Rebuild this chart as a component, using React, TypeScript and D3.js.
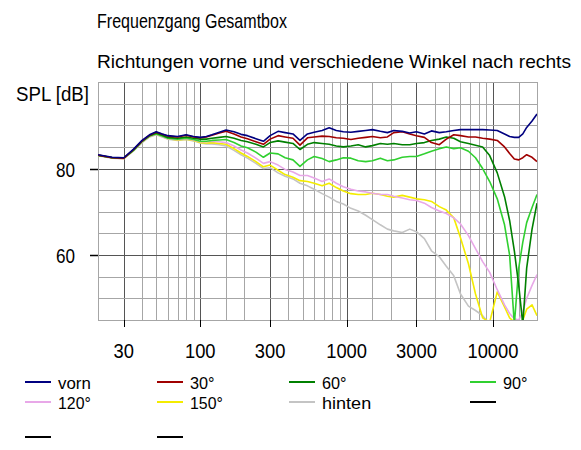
import React from "react";
import * as d3 from "d3";

// ---------- data ----------
const FREQS = [20, 25, 30, 35, 40, 45, 50, 55, 60, 70, 80, 90, 100, 110, 120, 135, 150, 170, 190, 210, 240, 270, 300, 340, 380, 430, 480, 540, 600, 680, 760, 850, 950, 1070, 1200, 1350, 1500, 1700, 1900, 2100, 2400, 2700, 3000, 3400, 3800, 4300, 4800, 5400, 6000, 6800, 7600, 8500, 9500, 10700, 12000, 13000, 14000, 15000, 16000, 17000, 18500, 20000];

const VORN = [83.2, 82.6, 82.5, 84.5, 86.5, 87.8, 88.5, 88.0, 87.6, 87.4, 87.8, 87.4,
  87.2, 87.4, 87.8, 88.4, 88.9, 88.5, 87.9, 87.6, 86.9, 86.3,
  87.6, 88.6, 88.3, 88.0, 86.5, 88.0, 88.4, 88.8, 89.4, 88.8,
  88.5, 88.4, 88.6, 88.8, 89.0, 88.6, 88.3, 88.8, 88.6, 88.2,
  88.5, 88.0, 88.7, 88.3, 88.5, 88.8, 89.0, 89.0, 89.0, 89.0,
  88.9, 88.8, 88.0, 87.4, 87.2, 87.2, 88.0, 89.5, 91.0, 92.6];

const DEG30 = [83.1, 82.5, 82.4, 84.4, 86.4, 87.7, 88.4, 87.9, 87.5, 87.3, 87.7, 87.3,
  87.1, 87.3, 87.7, 88.2, 88.6, 88.0, 87.3, 86.9, 86.2, 85.6,
  86.8, 87.6, 87.3, 87.0, 85.4, 87.1, 87.3, 87.5, 87.4, 87.1,
  87.0, 86.7, 87.0, 87.2, 87.4, 87.1, 87.3, 88.3, 88.5, 88.0,
  87.6, 87.2, 86.0, 85.5, 86.8, 87.8, 87.6, 87.3, 87.3, 87.0,
  86.8, 86.5, 85.0, 83.5, 82.2, 82.0, 82.5, 83.2, 82.6, 81.6];

const DEG60 = [83.1, 82.5, 82.4, 84.3, 86.3, 87.6, 88.2, 87.7, 87.2, 87.0, 87.3, 87.0,
  86.8, 86.8, 87.0, 87.2, 87.4, 87.0, 86.5, 86.2, 85.6, 85.0,
  86.0, 86.4, 86.1, 85.8, 84.4, 85.6, 86.0, 85.8, 85.6, 85.2,
  85.0, 85.2, 85.5, 85.0, 85.3, 85.8, 85.6, 85.8, 85.5, 85.5,
  85.8, 86.0, 86.5, 86.8, 87.3, 87.0, 86.2, 85.8, 85.4, 85.0,
  83.0, 79.0, 73.5, 68.0, 61.0, 53.0, 44.0, 57.0, 66.0, 72.0];

const DEG90 = [83.0, 82.5, 82.4, 84.2, 86.2, 87.5, 88.0, 87.5, 87.0, 86.8, 87.0, 86.7,
  86.3, 86.3, 86.5, 86.6, 86.7, 86.0, 85.2, 84.8, 83.8, 82.6,
  83.6, 83.4, 82.5, 82.0, 80.5, 82.0, 82.8, 82.3, 81.6, 82.0,
  82.5, 82.4, 81.8, 81.6, 81.8, 82.4, 81.8, 82.0, 82.6, 82.8,
  82.8, 83.4, 84.0, 84.6, 85.0, 84.6, 84.8, 84.0, 82.5, 80.0,
  77.0, 73.0, 67.0, 60.0, 44.0, 57.0, 63.0, 67.5, 71.0, 74.0];

const DEG120 = [83.0, 82.5, 82.3, 84.2, 86.1, 87.4, 87.9, 87.4, 86.9, 86.7, 86.9, 86.6,
  86.2, 86.2, 86.3, 86.2, 86.0, 85.2, 84.3, 83.6, 82.4, 81.2,
  81.6, 80.8, 79.8, 79.2, 78.4, 78.4, 77.8, 77.0, 77.6, 76.6,
  75.8, 75.2, 74.8, 74.6, 74.3, 74.0, 74.0, 73.6, 73.2, 72.8,
  72.6, 72.0, 71.0, 70.2, 69.6, 68.6, 67.2, 64.5, 61.5, 58.5,
  56.0, 52.0, 48.5, 46.5, 45.3, 45.0, 47.0, 50.0, 53.0, 55.5];

const DEG150 = [83.0, 82.5, 82.3, 84.2, 86.1, 87.4, 87.9, 87.4, 86.9, 86.6, 86.8, 86.5,
  86.0, 85.9, 86.0, 85.8, 85.6, 84.6, 83.6, 82.8, 81.6, 80.4,
  80.8, 79.6, 78.6, 78.0, 77.2, 77.0, 76.6, 76.0, 76.6, 75.6,
  74.8, 74.2, 74.0, 74.0, 74.3, 74.0, 73.6, 73.4, 73.8, 73.4,
  73.0, 72.8, 72.4, 71.2, 70.4, 68.6, 64.0, 58.0, 51.0, 45.5,
  44.5, 51.5, 48.0, 45.5, 44.5, 44.5, 45.0, 47.5, 48.5, 46.0];

const HINTEN = [83.0, 82.4, 82.3, 84.1, 86.0, 87.3, 87.8, 87.3, 86.8, 86.5, 86.7, 86.4,
  85.9, 85.7, 85.7, 85.5, 85.2, 84.2, 83.2, 82.4, 81.2, 80.0,
  80.2, 79.0, 78.2, 77.6, 76.6, 76.0, 75.2, 74.2, 73.4, 72.4,
  71.8, 70.8, 70.2, 69.2, 68.2, 67.0, 66.0, 65.6, 65.2, 66.0,
  65.4, 63.8, 61.0, 59.6, 57.4, 55.2, 51.0, 48.2, 47.2, 46.0,
  44.0, 43.0, 43.0, 43.0, 43.0, 43.0, 43.0, 43.0, 43.0, 43.0];

const SERIES_NAMES = ["vorn", "30°", "60°", "90°", "120°", "150°", "hinten", "", "", ""];
const SERIES_VALUES = [VORN, DEG30, DEG60, DEG90, DEG120, DEG150, HINTEN];

const X_TICKS = [30, 100, 300, 1000, 3000, 10000];
const X_TICK_LABELS = ["30", "100", "300", "1000", "3000", "10000"];
const Y_TICKS = [60, 80];
const Y_TICK_LABELS = ["60", "80"];
const GRID_MULTS = [1, 1.5, 2, 3, 4, 5, 6, 7, 8, 9];
const DECADES = [10, 100, 1000, 10000];

const TITLE1 = "Frequenzgang Gesamtbox";
const TITLE2 = "Richtungen vorne und verschiedene Winkel nach rechts";
const Y_TITLE = "SPL [dB]";

// ---------- styles ----------
const COLORS = ["#000080", "#a00000", "#008000", "#30d030", "#e8a8e8", "#f4ec00", "#c4c4c4", "#000000", "#000000", "#000000"];
const FONT = "'Liberation Sans Narrow', 'Liberation Sans', Arial, sans-serif";

const W = 581, H = 450;
const PL = 98, PR = 537, PT = 82, PB = 320;

export default function App() {
  const x = d3.scaleLog().domain([20, 20000]).range([PL, PR]);
  const y = d3.scaleLinear().domain([45, 100]).range([PB, PT]);

  const vGrid: number[] = [];
  DECADES.forEach((d) => GRID_MULTS.forEach((m) => {
    const f = d * m;
    if (f > 20 && f < 20000) vGrid.push(f);
  }));
  const hGrid = d3.range(50, 100, 5);

  const line = d3.line<number>()
    .x((_, i) => x(FREQS[i]))
    .y((v) => y(v))
    .curve(d3.curveLinear);

  const legendCols = [25, 157, 289, 470];
  const legendRows = [382, 402, 437];

  const T = (props: any) => (
    <text fontFamily={FONT} fontSize={21} fill="#000" lengthAdjust="spacingAndGlyphs" {...props} />
  );

  return (
    <div style={{ position: "absolute", left: 0, top: 0, width: W, height: H, background: "#fff" }}>
      <svg width={W} height={H} viewBox={`0 0 ${W} ${H}`} style={{ display: "block" }}>
        <defs>
          <clipPath id="plotclip">
            <rect x={PL} y={PT} width={PR - PL} height={PB - PT} />
          </clipPath>
        </defs>
        <rect x={0} y={0} width={W} height={H} fill="#fff" />

        <T x={97} y={28} textLength={190}>{TITLE1}</T>
        <T x={97} y={68} fontSize={19} textLength={474}>{TITLE2}</T>
        <T x={16} y={101} textLength={73}>{Y_TITLE}</T>

        {/* grid */}
        {vGrid.map((f) => (
          <line key={"v" + f} x1={Math.round(x(f)) + 0.5} x2={Math.round(x(f)) + 0.5} y1={PT} y2={PB}
            stroke={X_TICKS.includes(f) ? "#555" : "#a6a6a6"} strokeWidth={1} />
        ))}
        {hGrid.map((v) => (
          <line key={"h" + v} x1={PL} x2={PR} y1={Math.round(y(v)) + 0.5} y2={Math.round(y(v)) + 0.5}
            stroke={Y_TICKS.includes(v) ? "#555" : "#a6a6a6"} strokeWidth={1} />
        ))}
        <rect x={PL + 0.5} y={PT + 0.5} width={PR - PL} height={PB - PT} fill="none" stroke="#a6a6a6" />

        {/* ticks */}
        {X_TICKS.map((f, i) => (
          <g key={"xt" + f}>
            <line x1={Math.round(x(f)) + 0.5} x2={Math.round(x(f)) + 0.5} y1={PB} y2={PB + 7} stroke="#000" />
            <T x={x(f)} y={358} textAnchor="middle" textLength={X_TICK_LABELS[i].length * 10.2}>{X_TICK_LABELS[i]}</T>
          </g>
        ))}
        {Y_TICKS.map((v, i) => (
          <g key={"yt" + v}>
            <line x1={PL - 8} x2={PL} y1={Math.round(y(v)) + 0.5} y2={Math.round(y(v)) + 0.5} stroke="#000" strokeWidth={1.5} />
            <T x={75} y={y(v) + 8} textAnchor="end" textLength={19}>{Y_TICK_LABELS[i]}</T>
          </g>
        ))}

        {/* series */}
        <g clipPath="url(#plotclip)">
          {SERIES_VALUES.map((vals, i) => ({ vals, i })).reverse().map(({ vals, i }) => (
            <path key={"s" + i} d={line(vals) || ""} fill="none" stroke={COLORS[i]} strokeWidth={1.6} strokeLinejoin="round" />
          ))}
        </g>

        {/* legend */}
        {SERIES_NAMES.map((name, i) => {
          const col = i % 4;
          const row = Math.floor(i / 4);
          const lx = legendCols[col];
          const ly = legendRows[row];
          return (
            <g key={"lg" + i}>
              <line x1={lx} x2={lx + 26} y1={ly} y2={ly} stroke={COLORS[i]} strokeWidth={2} />
              {name && <T x={lx + 33} y={ly + 6.5} fontSize={17} textLength={name.length * 8.2}>{name}</T>}
            </g>
          );
        })}
      </svg>
    </div>
  );
}
